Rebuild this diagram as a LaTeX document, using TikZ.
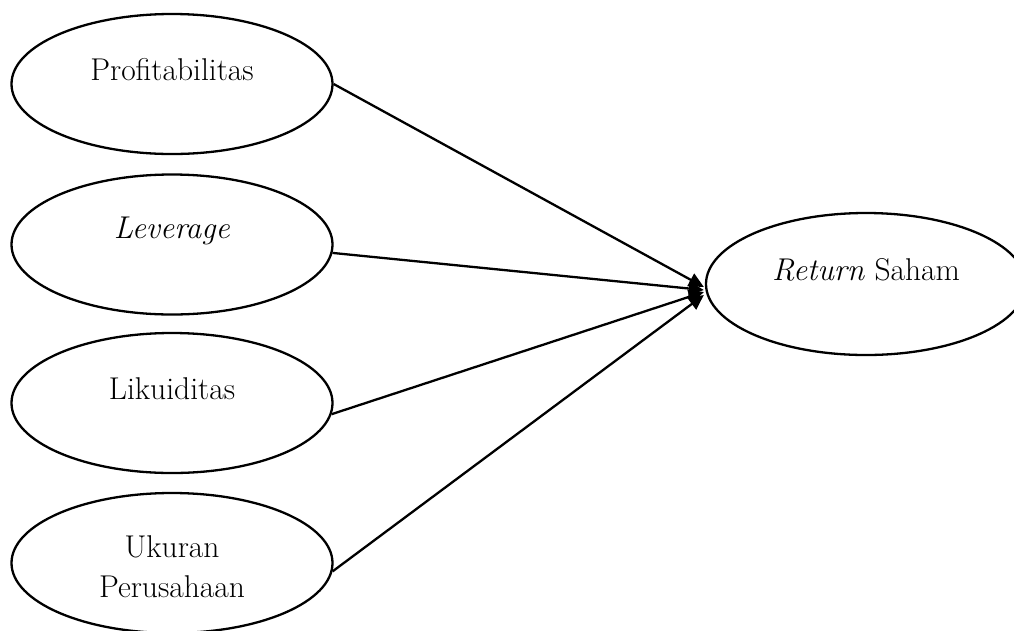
\documentclass[tikz,border=0pt]{standalone}
\usepackage{fontspec}
\usetikzlibrary{shapes.geometric,arrows.meta,calc}
\begin{document}
\begin{tikzpicture}[x=1pt,y=-1pt,
  ell/.style={ellipse,draw,line width=2.3pt,minimum width=321pt,minimum height=140pt,inner sep=0pt},
  lbl/.style={font=\fontsize{31.5}{40}\selectfont,align=center,inner sep=0pt},
  arr/.style={line width=2.3pt,-{Triangle[length=15pt,width=14pt]}}]
\clip (0,0) rectangle (1014,630);
\fill[white] (0,0) rectangle (1014,630);
\node[ell] (p) at (172,84) {};
\node[ell] (v) at (172,244.5) {};
\node[ell] (k) at (172,403) {};
\node[ell] (u) at (172,563) {};
\node[ell,minimum width=320pt,minimum height=142pt] (r) at (866,284) {};
\node[lbl] (pl) at ([yshift=14pt]p.center) {Profitabilitas};
\node[lbl] (vl) at ([yshift=14pt]v.center) {\textit{Leverage}};
\node[lbl] (kl) at ([yshift=14pt]k.center) {Likuiditas};
\node[lbl] (ul) at ([yshift=-4pt]u.center) {Ukuran\\Perusahaan};
\node[lbl] (rl) at ([yshift=14pt]r.center) {\textit{Return} Saham};
\coordinate (t1) at ([xshift=-1pt,yshift=-3pt]r.west);
\coordinate (t2) at ([xshift=-1pt,yshift=-6pt]r.west);
\coordinate (t3) at ([xshift=-1pt,yshift=-8pt]r.west);
\coordinate (t4) at ([xshift=-1pt,yshift=-11pt]r.west);
\draw[arr] (p.east) -- (t1);
\draw[arr] (v.-3) -- (t2);
\draw[arr] (k.-4) -- (t3);
\draw[arr] (u.-3) -- (t4);
\end{tikzpicture}
\end{document}
